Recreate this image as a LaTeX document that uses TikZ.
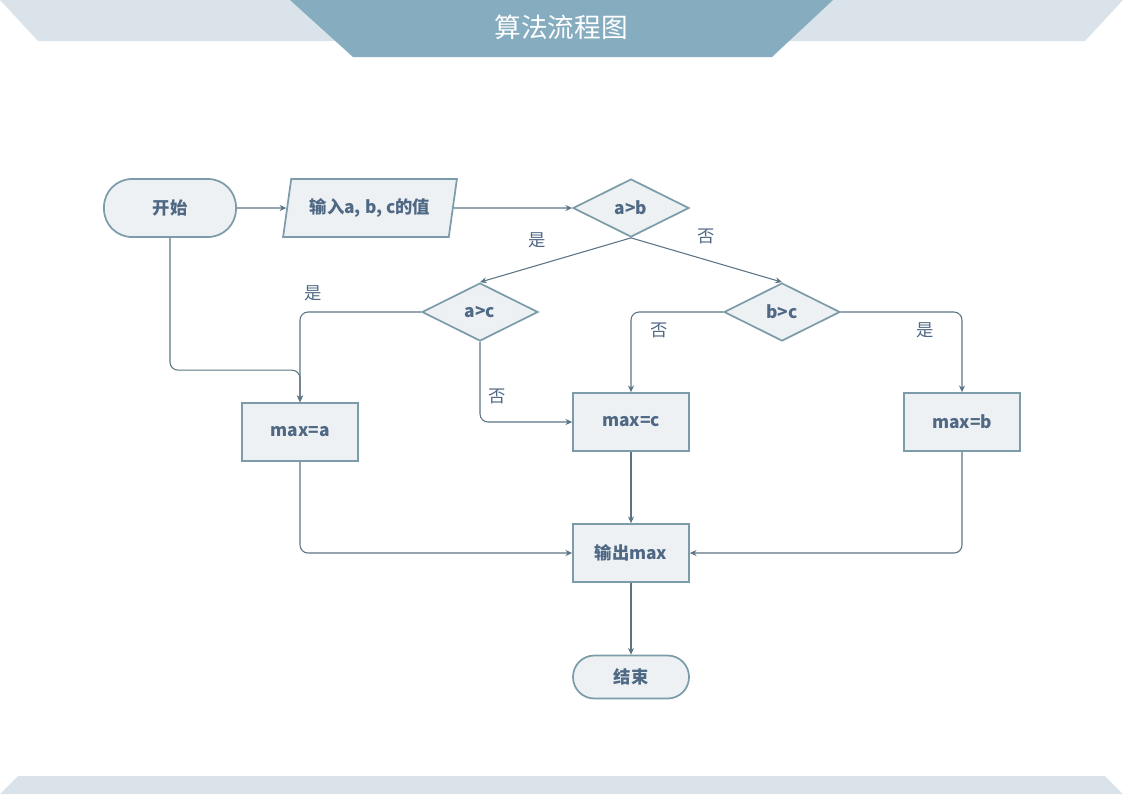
\documentclass[tikz,border=0pt]{standalone}
\usepackage{fontspec}
\setmainfont{Noto Sans CJK SC}
\usetikzlibrary{arrows.meta}
\usetikzlibrary{positioning}
\usetikzlibrary{shapes.geometric}

\definecolor{linecol}{HTML}{5B7485}
\definecolor{boxline}{HTML}{7C9CAA}
\definecolor{boxfill}{HTML}{EDF1F4}
\definecolor{textcol}{HTML}{4F6884}
\definecolor{bandlight}{HTML}{DAE3E9}
\definecolor{banddark}{HTML}{86ADBF}

\tikzset{
  box/.style={draw=boxline, fill=boxfill, line width=1.3pt, minimum width=87pt,
    minimum height=43.5pt, inner sep=2pt, text=textcol,
    font=\bfseries\fontsize{13}{15}\selectfont},
  terminal/.style={box, rounded corners=21pt},
  io/.style={box, trapezium, trapezium left angle=75, trapezium right angle=105,
    trapezium stretches=true, minimum width=130.5pt},
  decision/.style={box, diamond, aspect=2, inner sep=0pt},
  flow/.style={draw=linecol, line width=0.8pt, rounded corners=6pt,
    -{Stealth[length=5pt, width=4.5pt]}},
  lbl/.style={text=textcol, font=\fontsize{13}{15}\selectfont}
}

\begin{document}
\begin{tikzpicture}[x=0.75pt, y=-0.75pt, on grid]
    \useasboundingbox (0,0) rectangle (1123,794);

    % header and footer bands
    \fill[bandlight] (0,0) -- (1123,0) -- (1085,41) -- (38,41) -- cycle;
    \fill[banddark] (290,0) -- (833,0) -- (772,57) -- (353,57) -- cycle;
    \fill[bandlight] (18,776) -- (1105,776) -- (1123,794) -- (0,794) -- cycle;
    \node[text=white, font=\fontsize{20}{24}\selectfont] (title) at (561,27) {算法流程图};

    \node[terminal, minimum width=99pt] (start) at (170,208) {开始};
    \node[io] (input) [right=150pt of start] {输入a, b, c的值};
    \node[decision] (ab) [right=195.75pt of input] {a>b};
    \node[decision] (ac) [below left=78pt and 113.25pt of ab] {a>c};
    \node[decision] (bc) [below right=78pt and 113.25pt of ab] {b>c};
    \node[box] (maxc) [below=160.5pt of ab] {max=c};
    \node[box] (maxb) [right=248.25pt of maxc] {max=b};
    \node[box] (maxa) [below left=7.5pt and 248.25pt of maxc] {max=a};
    \node[box] (out) [below=98.25pt of maxc] {输出max};
    \node[terminal, minimum height=32.25pt, rounded corners=16pt] (end) [below=93pt of out] {结束};

    \draw[flow] (start) -- (input);
    \draw[flow] (input) -- (ab);
    \draw[flow] (ab.south) -- node[lbl, pos=0.62, yshift=19pt] {是} (ac.north);
    \draw[flow] (ab.south) -- node[lbl, pos=0.5, yshift=18pt] {否} (bc.north);
    \draw[flow] (ac.west) -| node[lbl, pos=0.5, xshift=9.75pt, yshift=14.25pt] {是} (maxa.north);
    \draw[flow] (start.south) |- ([yshift=24pt]maxa.north) -- (maxa.north);
    \draw[flow] (ac.south) |- node[lbl, pos=0.5, xshift=12.75pt, yshift=19.5pt] {否} (maxc.west);
    \draw[flow] (bc.west) -| node[lbl, pos=0.5, xshift=21pt, yshift=-13.5pt] {否} (maxc.north);
    \draw[flow] (bc.east) -| node[lbl, pos=0.5, xshift=-27.75pt, yshift=-13.5pt] {是} (maxb.north);
    \draw[flow] (maxa.south) |- (out.west);
    \draw[flow] (maxc.south) -- (out.north);
    \draw[flow] (maxb.south) |- (out.east);
    \draw[flow] (out.south) -- (end.north);
\end{tikzpicture}
\end{document}
